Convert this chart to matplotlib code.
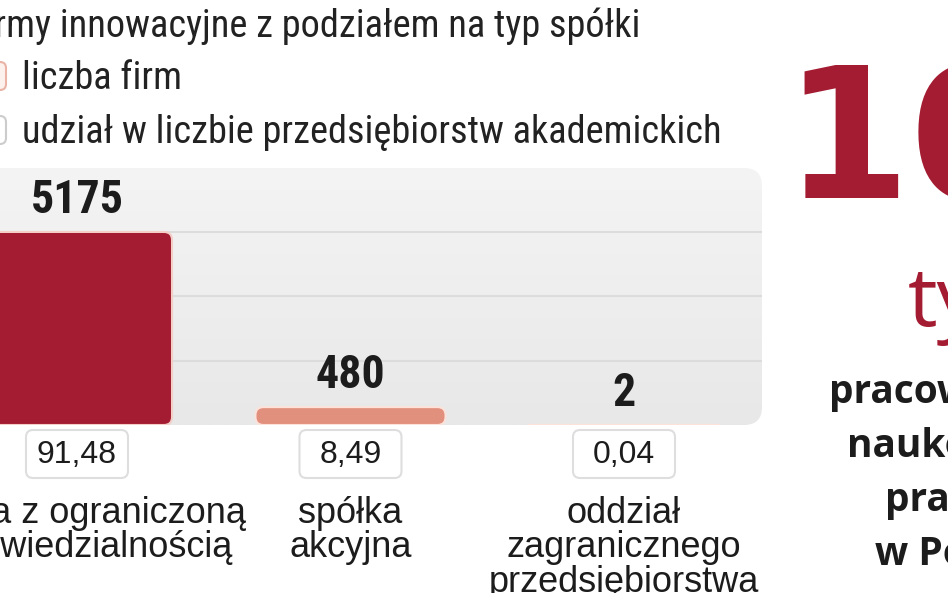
import numpy as np
import matplotlib
matplotlib.use("Agg")
import matplotlib.pyplot as plt
from matplotlib import font_manager
from matplotlib.patches import FancyBboxPatch
from matplotlib.transforms import IdentityTransform
from matplotlib.colors import LinearSegmentedColormap

# data
categories = ["spółka z ograniczoną\nodpowiedzialnością", "spółka\nakcyjna",
              "oddział\nzagranicznego\nprzedsiębiorstwa"]
firm_counts = [5175, 480, 2]
shares = ["91,48", "8,49", "0,04"]
bar_colors = ["#a41c32", "#e2907e", "#e2907e"]
bar_edges = ["#f3cfc8", "#fbe3dc", "#fbe3dc"]
grid_values = [1725, 3450, 5175]

title = "Firmy innowacyjne z podziałem na typ spółki"
legend_labels = ["liczba firm", "udział w liczbie przedsiębiorstw akademickich"]
big_number = "10"
big_unit = "tys."
side_lines = ["pracowników", "naukowych", "pracuje", "w Polsce"]

W, H = 948, 593
crimson = "#a41c32"
ink = "#1c1c1c"

# pick a condensed face if one is there, else a normal one at a smaller size
names = {}
for f in font_manager.fontManager.ttflist:
    names.setdefault(f.name, []).append(f.weight)

def has_bold(name):
    ws = names.get(name, [])
    return any((w if isinstance(w, int) else 700 if w == "bold" else 400) >= 600 for w in ws)

narrow_name = None
for cand in ["Roboto Condensed", "Liberation Sans Narrow", "Open Sans Condensed"]:
    if cand in names:
        narrow_name = cand
        break
if narrow_name:
    narrow = [narrow_name, "DejaVu Sans"]
    title_size, value_size, title_x = 27.6, 33, -33
else:
    narrow = ["Roboto", "Liberation Sans", "DejaVu Sans"]
    title_size, value_size, title_x = 25.5, 31, -30
bold_side = "Open Sans" if has_bold("Open Sans") else "Lato" if has_bold("Lato") else "Liberation Sans"
regular = ["Liberation Sans", "DejaVu Sans"]

fig = plt.figure(figsize=(W / 100, H / 100), dpi=100)

def fx(x):
    return x / W

def fy(y):
    return 1 - y / H

# chart panel (image pixels: x 0..762, y 168..425)
ax = fig.add_axes([0, fy(425), fx(762), (425 - 168) / H])
xmin, xmax = -0.2815, 2.5046
ymin, ymax = 0, 6890

panel = FancyBboxPatch((-30, H - 425), 792, 257,
                       boxstyle="round,pad=0,rounding_size=18",
                       transform=IdentityTransform(), fc="none", ec="none")
fig.add_artist(panel)
grad = np.linspace(0, 1, 256).reshape(-1, 1)
cmap = LinearSegmentedColormap.from_list("bg", ["#f4f4f4", "#e8e8e8"])
img = ax.imshow(grad, extent=(xmin, xmax, ymin, ymax), aspect="auto",
                cmap=cmap, origin="upper", zorder=0)
img.set_clip_path(panel)

for g in grid_values:
    ax.axhline(g, color="#dcdcdc", lw=1.5, zorder=1)

x = np.arange(len(categories))
bars = ax.bar(x, firm_counts, width=0.695, color=bar_colors, zorder=2)
ax.set_xlim(xmin, xmax)
ax.set_ylim(ymin, ymax)
ax.set_axis_off()

xpx = 762 / (xmax - xmin)
ypx = 257 / (ymax - ymin)
for rect, ec in zip(bars, bar_edges):
    bx, by = rect.get_x(), rect.get_y()
    bw, bh = rect.get_width(), rect.get_height()
    r = min(8, bh * ypx / 2)
    rounded = FancyBboxPatch((bx, by), bw, bh,
                             boxstyle="round,pad=0,rounding_size=%f" % (r / xpx),
                             mutation_aspect=xpx / ypx,
                             fc=rect.get_facecolor(), ec=ec, lw=1.5, zorder=2)
    ax.add_patch(rounded)
    rect.remove()

for i, v in enumerate(firm_counts):
    ax.annotate(str(v), (i, v), xytext=(0, 32), textcoords="offset pixels",
                ha="center", va="center", fontsize=value_size, fontweight="bold",
                family=narrow, color=ink, annotation_clip=False, zorder=3)

# share boxes and category labels under the panel
for i in range(len(categories)):
    cx = ax.transData.transform((i, 0))[0]
    box = FancyBboxPatch((cx - 51, H - 478), 102, 48,
                         boxstyle="round,pad=0,rounding_size=7",
                         transform=IdentityTransform(), fc="white",
                         ec="#dedede", lw=1.5)
    fig.add_artist(box)
    fig.text(fx(cx), fy(455), shares[i], ha="center", va="center",
             fontsize=23, family=regular, color=ink)
    fig.text(fx(cx), fy(496), categories[i], ha="center", va="top",
             fontsize=26, family=regular, color=ink, linespacing=0.98)

# title and legend
fig.text(fx(title_x), fy(37), title, fontsize=title_size, family=narrow,
         color="#222222", va="baseline")
swatches = [("#fdf1ee", "#eab3a5", 62), ("white", "#cccccc", 116)]
for (fc, ec, top), lab in zip(swatches, legend_labels):
    sw = FancyBboxPatch((-20, H - top - 28), 26, 28,
                        boxstyle="round,pad=0,rounding_size=6",
                        transform=IdentityTransform(), fc=fc, ec=ec, lw=1.5)
    fig.add_artist(sw)
    fig.text(fx(22), fy(top + 27), lab, fontsize=title_size, family=narrow,
             color="#222222", va="baseline")

# side note on the right
fig.text(fx(783), fy(198), big_number, fontsize=131, fontweight="bold",
         family=["DejaVu Sans"], color=crimson, va="baseline")
fig.text(fx(908), fy(326), big_unit, fontsize=60,
         family=["Open Sans", "DejaVu Sans"], color=crimson, va="baseline")
for k, line in enumerate(side_lines):
    fig.text(fx(958), fy(403 + 54 * k), line, ha="center", va="baseline",
             fontsize=28, fontweight="bold", family=[bold_side, "DejaVu Sans"],
             color=ink)

fig.savefig("out.png", dpi=100)
